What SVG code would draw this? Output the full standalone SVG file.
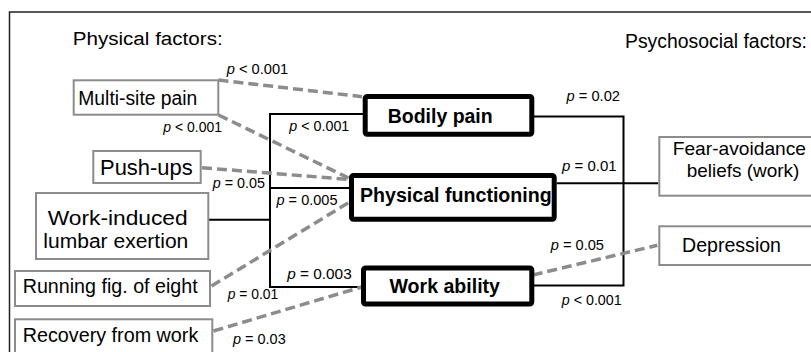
<svg xmlns="http://www.w3.org/2000/svg" width="811" height="352" viewBox="0 0 811 352">
<style>
text{font-family:"Liberation Sans",Arial,sans-serif;fill:#000}
.lbl{font-size:19.5px}
.hdr{font-size:18px}
.bold{font-size:19.5px;font-weight:bold}
.pv{font-size:14px}
.pv .i{font-style:italic}
.fbox{fill:#fff;stroke:#8c8c8c;stroke-width:2}
.obox{fill:#fff;stroke:#000;stroke-width:5}
.solid{fill:none;stroke:#000;stroke-width:2}
.dash{fill:none;stroke:#8c8c8c;stroke-width:3.5;stroke-dasharray:10 5}
.frame{fill:none;stroke:#222;stroke-width:1.5}
</style>
<rect width="811" height="352" fill="#fff"/>
<path class="frame" d="M9.5 352 V12 H811"/>
<text class="hdr" x="72.7" y="45" textLength="150" lengthAdjust="spacingAndGlyphs">Physical factors:</text>
<text class="lbl" x="625" y="48.3" textLength="182" lengthAdjust="spacingAndGlyphs">Psychosocial factors:</text>

<g id="connectors">
  <path class="solid" d="M363 114 H270 V287 H361"/>
  <path class="solid" d="M349 188 H270"/>
  <path class="solid" d="M209 219.7 H270"/>
  <path class="solid" d="M534 116.5 H623.5 V285.5 H534"/>
  <path class="solid" d="M556.7 183.3 H658.3"/>
  <path class="dash" d="M218.5 80 L362 96.7"/>
  <path class="dash" d="M218.5 115 L348.5 178"/>
  <path class="dash" d="M202 167.7 L347 179.3"/>
  <path class="dash" d="M211.5 286 L348.5 202.7"/>
  <path class="dash" d="M213.5 331 L361.7 287"/>
  <path class="dash" d="M532.7 275 L657.3 245.3"/>
</g>

<g id="pvalues">
  <text class="pv" x="226.7" y="74.3" textLength="61.6" lengthAdjust="spacingAndGlyphs"><tspan class="i">p</tspan> &lt; 0.001</text>
  <text class="pv" x="163.3" y="131.5" textLength="58.7" lengthAdjust="spacingAndGlyphs"><tspan class="i">p</tspan> &lt; 0.001</text>
  <text class="pv" x="289.3" y="131" textLength="60" lengthAdjust="spacingAndGlyphs"><tspan class="i">p</tspan> &lt; 0.001</text>
  <text class="pv" x="212.7" y="187.5" textLength="52.3" lengthAdjust="spacingAndGlyphs"><tspan class="i">p</tspan> = 0.05</text>
  <text class="pv" x="276.5" y="205" textLength="61" lengthAdjust="spacingAndGlyphs"><tspan class="i">p</tspan> = 0.005</text>
  <text class="pv" x="287.3" y="278.7" textLength="64.4" lengthAdjust="spacingAndGlyphs"><tspan class="i">p</tspan> = 0.003</text>
  <text class="pv" x="227.7" y="298.7" textLength="50.6" lengthAdjust="spacingAndGlyphs"><tspan class="i">p</tspan> = 0.01</text>
  <text class="pv" x="233" y="344.3" textLength="52.7" lengthAdjust="spacingAndGlyphs"><tspan class="i">p</tspan> = 0.03</text>
  <text class="pv" x="566.5" y="101" textLength="53.5" lengthAdjust="spacingAndGlyphs"><tspan class="i">p</tspan> = 0.02</text>
  <text class="pv" x="562" y="170.5" textLength="54.7" lengthAdjust="spacingAndGlyphs"><tspan class="i">p</tspan> = 0.01</text>
  <text class="pv" x="550.7" y="250" textLength="53.3" lengthAdjust="spacingAndGlyphs"><tspan class="i">p</tspan> = 0.05</text>
  <text class="pv" x="561.7" y="305.3" textLength="60" lengthAdjust="spacingAndGlyphs"><tspan class="i">p</tspan> &lt; 0.001</text>
</g>

<g id="multi-site-pain">
  <rect class="fbox" x="73.7" y="80.3" width="144.6" height="34.4"/>
  <text class="lbl" x="78.3" y="105" textLength="119" lengthAdjust="spacingAndGlyphs">Multi-site pain</text>
</g>
<g id="push-ups">
  <rect class="fbox" x="93.3" y="151" width="107.4" height="32"/>
  <text class="lbl" style="font-size:22px" x="100" y="175" textLength="92.7" lengthAdjust="spacingAndGlyphs">Push-ups</text>
</g>
<g id="work-induced-lumbar-exertion">
  <rect class="fbox" x="36" y="193" width="172.3" height="66"/>
  <text class="lbl" style="font-size:21px" x="47.7" y="225" textLength="140" lengthAdjust="spacingAndGlyphs">Work-induced</text>
  <text class="lbl" style="font-size:20px" x="43.3" y="247.7" textLength="145" lengthAdjust="spacingAndGlyphs">lumbar exertion</text>
</g>
<g id="running-fig-of-eight">
  <rect class="fbox" x="15" y="271" width="195" height="35"/>
  <text class="lbl" x="22.7" y="293.3" textLength="175" lengthAdjust="spacingAndGlyphs">Running fig. of eight</text>
</g>
<g id="recovery-from-work">
  <rect class="fbox" x="15" y="319.3" width="197.3" height="50"/>
  <text class="lbl" x="22.7" y="341.7" textLength="175.6" lengthAdjust="spacingAndGlyphs">Recovery from work</text>
</g>
<g id="fear-avoidance-beliefs">
  <rect class="fbox" x="659.3" y="137" width="200" height="58.7"/>
  <text class="lbl" style="font-size:19px" x="672.7" y="155" textLength="133.3" lengthAdjust="spacingAndGlyphs">Fear-avoidance</text>
  <text class="lbl" style="font-size:19px" x="686.7" y="176.5" textLength="112.6" lengthAdjust="spacingAndGlyphs">beliefs (work)</text>
</g>
<g id="depression">
  <rect class="fbox" x="659.3" y="226.3" width="200" height="38.7"/>
  <text class="lbl" x="682" y="252" textLength="99" lengthAdjust="spacingAndGlyphs">Depression</text>
</g>
<g id="bodily-pain">
  <rect class="obox" x="365.2" y="96.5" width="166.6" height="37.7" rx="2"/>
  <text class="bold" x="387.7" y="123.3" textLength="105" lengthAdjust="spacingAndGlyphs">Bodily pain</text>
</g>
<g id="physical-functioning">
  <rect class="obox" x="351.5" y="175.5" width="202.7" height="43.7" rx="2"/>
  <text class="bold" x="360" y="201.7" textLength="191.7" lengthAdjust="spacingAndGlyphs">Physical functioning</text>
</g>
<g id="work-ability">
  <rect class="obox" x="363.5" y="268" width="168.3" height="36" rx="2"/>
  <text class="bold" x="389.5" y="293" textLength="110.5" lengthAdjust="spacingAndGlyphs">Work ability</text>
</g>
</svg>
